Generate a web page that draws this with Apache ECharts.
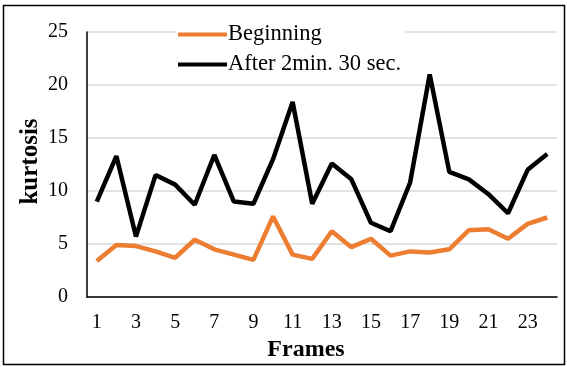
<!DOCTYPE html>
<html><head><meta charset="utf-8">
<script src="https://cdn.jsdelivr.net/npm/echarts@6/dist/echarts.min.js"></script>
<style>html,body{margin:0;padding:0;background:#fff}#c{width:567px;height:367px}</style>
</head><body><div id="c"></div>
<script>
const frames = ['1','2','3','4','5','6','7','8','9','10','11','12','13','14','15','16','17','18','19','20','21','22','23','24'];
const beginning = [3.4,4.9,4.8,4.3,3.7,5.4,4.5,4.0,3.5,7.6,4.0,3.6,6.2,4.7,5.5,3.9,4.3,4.2,4.5,6.3,6.4,5.5,6.9,7.5];
const after = [9.0,13.3,5.7,11.5,10.6,8.7,13.4,9.0,8.8,13.0,18.4,8.8,12.6,11.1,7.0,6.2,10.8,21.0,11.8,11.1,9.7,7.9,12.0,13.5];
const yTicks = [0,5,10,15,20,25];
const serif = '"Liberation Serif","Times New Roman",serif';
const chart = echarts.init(document.getElementById('c'));
chart.setOption({
  animation:false,
  graphic:[{type:'rect',shape:{x:3.5,y:5.5,width:561,height:359},style:{fill:'none',stroke:'#000',lineWidth:1.5},z:-1}],
  grid:{left:87,right:10,top:32,bottom:69},
  legend:{
    orient:'vertical',left:176,top:21,icon:'rect',itemWidth:49,itemHeight:4,itemGap:7,
    backgroundColor:'#fff',padding:[2,4,2,2],
    textStyle:{fontFamily:serif,fontSize:22.5,color:'#000',padding:[0,0,0,-4]},
    data:['Beginning','After 2min. 30 sec.']
  },
  xAxis:{
    type:'category',data:frames,boundaryGap:true,
    name:'Frames',nameLocation:'middle',nameGap:41,nameMoveOverlap:false,
    nameTextStyle:{fontFamily:serif,fontSize:24,fontWeight:'bold',color:'#000',padding:[0,32,0,0]},
    axisLine:{lineStyle:{color:'#000',width:1.5}},axisTick:{show:false},
    axisLabel:{interval:1,fontFamily:serif,fontSize:20,color:'#000',margin:16}
  },
  yAxis:{
    type:'value',min:yTicks[0],max:yTicks[yTicks.length-1],interval:5,
    name:'kurtosis',nameLocation:'middle',nameGap:44,nameMoveOverlap:false,
    nameTextStyle:{fontFamily:serif,fontSize:25,fontWeight:'bold',color:'#000',padding:[0,0,0,6]},
    axisLine:{show:true,lineStyle:{color:'#000',width:1.5}},axisTick:{show:false},
    axisLabel:{fontFamily:serif,fontSize:20,color:'#000',margin:19},
    splitLine:{lineStyle:{color:'#d9d9d9',width:1.5}}
  },
  series:[
    {name:'Beginning',type:'line',data:beginning,symbol:'none',lineStyle:{color:'#ed7d31',width:4.5},itemStyle:{color:'#ed7d31'}},
    {name:'After 2min. 30 sec.',type:'line',data:after,symbol:'none',lineStyle:{color:'#000',width:4.5},itemStyle:{color:'#000'}}
  ]
});
</script></body></html>
